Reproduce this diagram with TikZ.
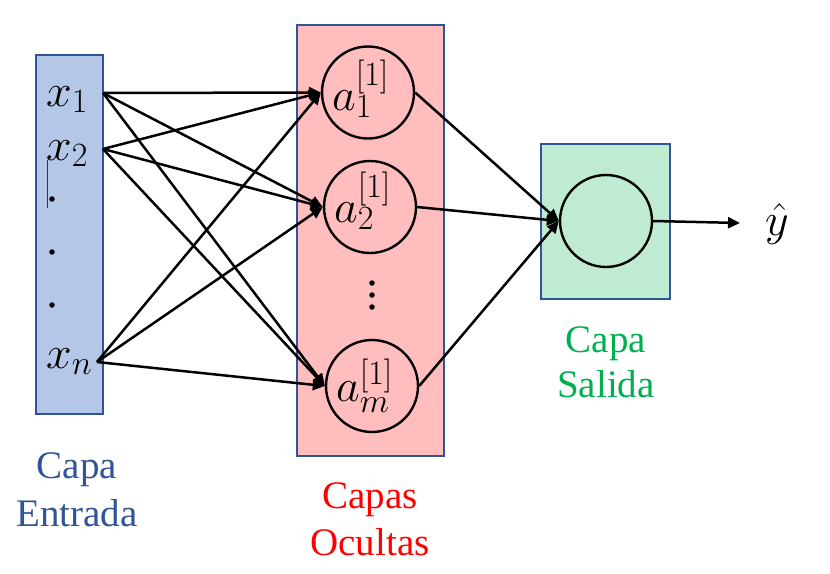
\RequirePackage{fix-cm}
\documentclass[tikz,border=0pt]{standalone}
\usepackage{fontspec}
\setmainfont{Liberation Serif}
\DeclareMathSizes{46}{46}{34}{26}
\usetikzlibrary{arrows.meta}
\definecolor{blueT}{HTML}{2F5597}
\definecolor{blueF}{HTML}{B4C7E7}
\definecolor{pinkF}{HTML}{FFBDBD}
\definecolor{greenF}{HTML}{BEEBD1}
\definecolor{greenT}{HTML}{00B050}
\definecolor{redT}{HTML}{FF0000}
\tikzset{
  layerbox/.style={draw=blueT, line width=1.8pt},
  neuron/.style={circle, draw=black, line width=2.4pt, minimum size=92pt, inner sep=0pt},
  arr/.style={line width=2.5pt, -{Triangle[length=12pt,width=11pt]}},
  mathlbl/.style={inner sep=0pt, anchor=base west, font=\fontsize{46}{55}\selectfont},
  lbl/.style={inner sep=0pt, anchor=base, font=\fontsize{39}{47}\selectfont},
  dotmark/.style={fill=black, circle, inner sep=0pt, minimum size=5.5pt}
}
\begin{document}
\begin{tikzpicture}[x=1pt,y=-1pt]
\useasboundingbox (0,0) rectangle (830,573);
% layer boxes
\draw[layerbox, fill=blueF] (36,55) rectangle (103,414);
\draw[layerbox, fill=pinkF] (297,25) rectangle (444,456);
\draw[layerbox, fill=greenF] (541,144) rectangle (670,299);
% input texts
\node[mathlbl] (tx1) at (46,106) {$x_1$};
\node[mathlbl] (tx2) at (46,160) {$x_2$};
\node[mathlbl] (txn) at (46,368) {$x_n$};
\node[dotmark] (d1) at (52,199) {};
\node[dotmark] (d2) at (52,252) {};
\node[dotmark] (d3) at (52,305) {};
\draw[line width=0.8pt, black!80] (47,160) -- (47,208);
\coordinate (x1) at (103,93);
\coordinate (x2) at (103,149);
\coordinate (xn) at (97,362);
% hidden neurons
\node[neuron] (a1) at (368,92.5) {};
\node[neuron] (a2) at (370,207) {};
\node[neuron] (am) at (372,386) {};
\node[mathlbl] (ta1) at (332,110) {$a^{[1]}_1$};
\node[mathlbl] (ta2) at (334,222) {$a^{[1]}_2$};
\node[mathlbl] (tam) at (336,401) {$a^{[1]}_m$};
\node[dotmark] (v1) at (372,283) {};
\node[dotmark] (v2) at (372,295) {};
\node[dotmark] (v3) at (372,307) {};
% output neuron
\node[neuron] (o) at (606,221) {};
\coordinate (yend) at (740,223);
\node[inner sep=0pt, font=\fontsize{46}{55}\selectfont] (yhat) at (777,224) {$\hat{y}$};
% connections
\foreach \s in {x1,x2,xn}{
  \foreach \t in {a1,a2,am}{
    \draw[arr] (\s) -- (\t.west);
  }
}
\foreach \t in {a1,a2,am}{
  \draw[arr] (\t.east) -- (o.west);
}
\draw[arr] (o.east) -- (yend);
% labels
\node[lbl, text=blueT] (e1) at (77,478) {Capa};
\node[lbl, text=blueT] (e2) at (77,526) {Entrada};
\node[lbl, text=redT] (h1) at (370,508) {Capas};
\node[lbl, text=redT] (h2) at (370,555) {Ocultas};
\node[lbl, text=greenT] (s1) at (606,352) {Capa};
\node[lbl, text=greenT] (s2) at (606,397) {Salida};
\end{tikzpicture}
\end{document}
